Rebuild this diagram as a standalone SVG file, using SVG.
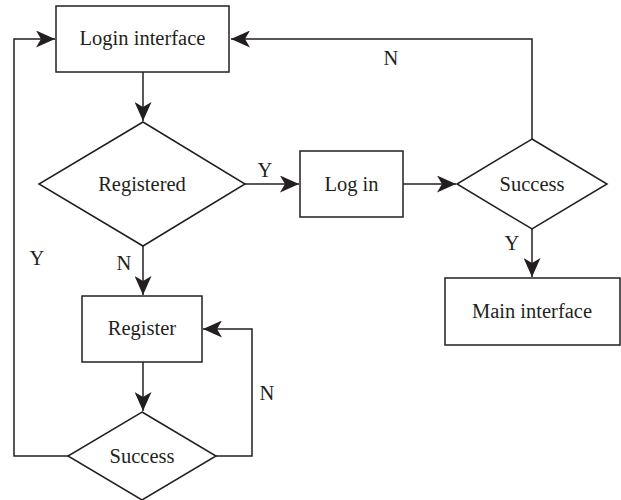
<svg xmlns="http://www.w3.org/2000/svg" width="621" height="500" viewBox="0 0 621 500">
<defs>
<marker id="ah" markerWidth="19" markerHeight="17" refX="19" refY="8.5" orient="auto" markerUnits="userSpaceOnUse">
<path d="M0,0 L19,8.5 L0,17 L5,8.5 Z" fill="#231f20"/>
</marker>
</defs>
<style>
.shape{fill:#fff;stroke:#231f20;stroke-width:1.5}
.conn{fill:none;stroke:#231f20;stroke-width:1.5}
.t{font-family:"Liberation Serif","Times New Roman",serif;font-size:20.5px;fill:#231f20;text-anchor:middle}
</style>
<rect width="621" height="500" fill="#fff"/>
<g id="connectors">
<path class="conn" d="M143,72 V121" marker-end="url(#ah)"/>
<path class="conn" d="M245,184 H299" marker-end="url(#ah)"/>
<path class="conn" d="M403,184 H456" marker-end="url(#ah)"/>
<path class="conn" d="M532,139 V39 H231" marker-end="url(#ah)"/>
<path class="conn" d="M532,229 V277" marker-end="url(#ah)"/>
<path class="conn" d="M143,246 V295" marker-end="url(#ah)"/>
<path class="conn" d="M143,362 V411" marker-end="url(#ah)"/>
<path class="conn" d="M216,456 H252 V329 H203" marker-end="url(#ah)"/>
<path class="conn" d="M68,456 H14 V39 H55" marker-end="url(#ah)"/>
<text class="t" x="265" y="177">Y</text>
<text class="t" x="391" y="65">N</text>
<text class="t" x="512" y="250">Y</text>
<text class="t" x="124" y="270">N</text>
<text class="t" x="37" y="265">Y</text>
<text class="t" x="267" y="400">N</text>
</g>
<g id="login-interface">
<rect class="shape" x="56" y="6" width="173" height="66"/>
<text class="t" x="142.5" y="45">Login interface</text>
</g>
<g id="registered">
<polygon class="shape" points="143,122 245,184 143,246 39,184"/>
<text class="t" x="142" y="191">Registered</text>
</g>
<g id="log-in">
<rect class="shape" x="300" y="151" width="103" height="66"/>
<text class="t" x="351.5" y="191">Log in</text>
</g>
<g id="success-login">
<polygon class="shape" points="532,139 607,184 532,229 457,184"/>
<text class="t" x="532" y="191">Success</text>
</g>
<g id="main-interface">
<rect class="shape" x="445" y="278" width="175" height="67"/>
<text class="t" x="532" y="318">Main interface</text>
</g>
<g id="register">
<rect class="shape" x="82" y="296" width="120" height="66"/>
<text class="t" x="142" y="335">Register</text>
</g>
<g id="success-register">
<polygon class="shape" points="142,412 216,456 142,500 68,456"/>
<text class="t" x="142" y="463">Success</text>
</g>
</svg>
